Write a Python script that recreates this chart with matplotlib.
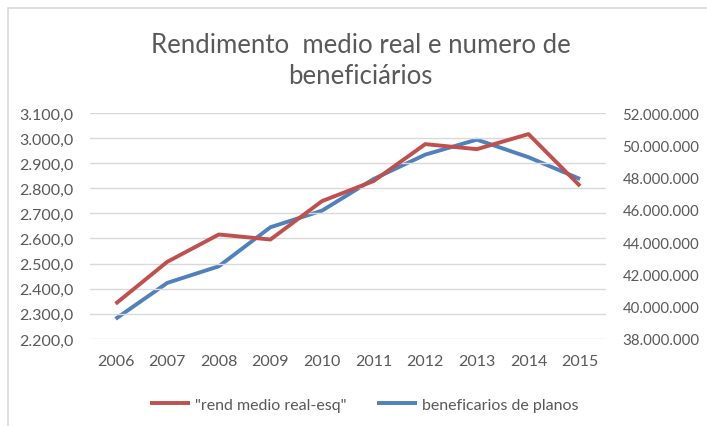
import matplotlib.pyplot as plt
from matplotlib.patches import Rectangle
from matplotlib.ticker import FuncFormatter
import numpy as np

# data
anos = ['2006', '2007', '2008', '2009', '2010', '2011', '2012', '2013', '2014', '2015']
rend_medio = [2340, 2507, 2616, 2596, 2749, 2829, 2976, 2956, 3016, 2809]
beneficiarios = [39.24e6, 41.47e6, 42.50e6, 44.92e6, 45.95e6,
                 47.91e6, 49.42e6, 50.35e6, 49.26e6, 47.91e6]

vermelho = '#C0504D'
azul = '#4F81BD'
cinza = '#595959'

plt.rcParams['font.family'] = ['Lato', 'DejaVu Sans']

fig = plt.figure(figsize=(7.07, 4.27), dpi=100)
ax = fig.add_axes([0.127, 0.204, 0.730, 0.529])
ax2 = ax.twinx()

x = np.arange(len(anos))
l1, = ax.plot(x, rend_medio, color=vermelho, lw=2.8, solid_capstyle='butt',
              label='"rend medio real-esq"')
l2, = ax2.plot(x, beneficiarios, color=azul, lw=2.8, solid_capstyle='butt',
               label='beneficarios de planos')
ax.set_zorder(ax2.get_zorder() + 1)
ax.patch.set_visible(False)

ax.set_xlim(-0.5, len(anos) - 0.5)
ax.set_ylim(2200, 3100)
ax.set_yticks(np.arange(2200, 3101, 100))
ax2.set_ylim(38e6, 52e6)
ax2.set_yticks(np.arange(38e6, 52.1e6, 2e6))

ax.yaxis.set_major_formatter(FuncFormatter(lambda v, p: f'{v:,.1f}'.replace(',', 'X').replace('.', ',').replace('X', '.')))
ax2.yaxis.set_major_formatter(FuncFormatter(lambda v, p: f'{v:,.0f}'.replace(',', '.')))
ax.set_xticks(x)
ax.set_xticklabels(anos)

ax2.grid(False)
ax.grid(axis='y', color='#D9D9D9', lw=1)
for a in (ax, ax2):
    for s in a.spines.values():
        s.set_visible(False)
    a.tick_params(length=0, labelsize=11.5, colors=cinza)
ax.tick_params(axis='y', pad=12)
ax2.tick_params(axis='y', pad=12, labelsize=10.8)
ax.tick_params(axis='x', pad=11)

fig.text(0.51, 0.893, 'Rendimento  medio real e numero de', ha='center', va='center',
         fontsize=18.5, color=cinza)
fig.text(0.51, 0.822, 'beneficiários', ha='center', va='center',
         fontsize=18.5, color=cinza)

fig.legend(handles=[l1, l2], loc='center', bbox_to_anchor=(0.515, 0.05), ncol=2,
           frameon=False, fontsize=11.5, labelcolor=cinza, handlelength=2.5,
           handletextpad=0.3, columnspacing=1.9)

fig.patches.append(Rectangle((0.011, -0.05), 1.05, 1.029, transform=fig.transFigure,
                             fill=False, edgecolor='#D9D9D9', lw=1.2))

fig.savefig('out.png', dpi=100)
